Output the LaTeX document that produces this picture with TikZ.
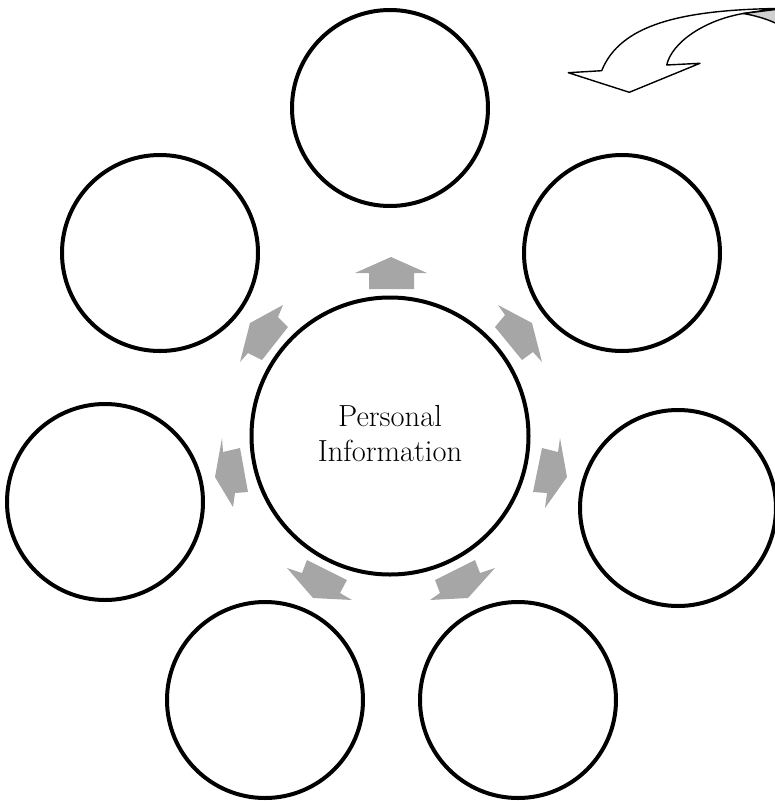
\documentclass[tikz,border=0pt]{standalone}
\definecolor{arrowgray}{RGB}{166,166,166}
\definecolor{backgray}{RGB}{208,208,208}
\tikzset{
  ring/.style={circle,draw=black,line width=4pt,inner sep=0pt,minimum size=196pt},
  hub/.style={circle,draw=black,line width=4pt,inner sep=0pt,minimum size=277pt},
  blockarrow/.style={fill=arrowgray,draw=none},
  bendline/.style={draw=black,line width=1.4pt,line join=round},
  hublabel/.style={font=\fontsize{30.5}{35}\selectfont,align=center,inner sep=0pt}
}
\begin{document}
\begin{tikzpicture}[x=1pt,y=-1pt]
\useasboundingbox (0,0) rectangle (775,801);
\clip (0,0) rectangle (775,801);
% circles
\node[hub] (hub) at (390,436) {};
\node[hublabel] (label) at (390,434) {Personal\\Information};
\node[ring] (top) at (390,108) {};
\node[ring] (ul) at (160,253) {};
\node[ring] (ur) at (622,253) {};
\node[ring] (lft) at (105,502) {};
\node[ring] (rgt) at (678,508) {};
\node[ring] (bl) at (265,700) {};
\node[ring] (br) at (518,700) {};
% gray block arrows
\fill[blockarrow] (355,273) -- (391,257) -- (427,273) -- (414,273) -- (414,289) -- (369,289) -- (369,273) -- cycle;
\fill[blockarrow] (250,323) -- (283,305) -- (278,317) -- (288,327) -- (262,360) -- (248,353) -- (240,362) -- cycle;
\fill[blockarrow] (532,323) -- (498,305) -- (505,315) -- (495,327) -- (522,360) -- (533,352) -- (542,362) -- cycle;
\fill[blockarrow] (215,477) -- (222,438) -- (223,452) -- (240,448) -- (248,492) -- (235,493) -- (233,507) -- cycle;
\fill[blockarrow] (567,477) -- (560,438) -- (558,452) -- (542,448) -- (533,492) -- (547,493) -- (545,508) -- cycle;
\fill[blockarrow] (313,598) -- (287,568) -- (302,573) -- (307,560) -- (347,580) -- (340,593) -- (352,600) -- cycle;
\fill[blockarrow] (468,598) -- (495,568) -- (480,573) -- (475,560) -- (435,580) -- (440,593) -- (430,600) -- cycle;
% curved arrow at top right
\draw[bendline,fill=white] (777,8.5) .. controls (680,10) and (620,25) .. (601.7,70.7)
  -- (568.3,72.7) -- (629.3,92.3) -- (700,63.3) -- (666.7,65)
  .. controls (672,42) and (705,20) .. (743.3,13.5) -- cycle;
\draw[bendline,fill=backgray] (743.3,13.5) -- (777,9.3) -- (777,23.8) .. controls (765,18) and (752,15) .. cycle;
\end{tikzpicture}
\end{document}
